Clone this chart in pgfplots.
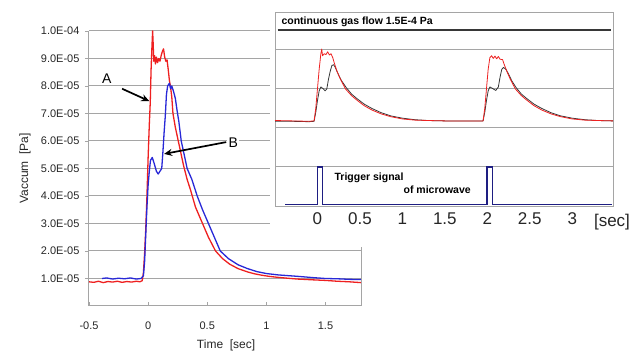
\documentclass[border=0pt]{standalone}
\usepackage{pgfplots}
\pgfplotsset{compat=1.18}
\usepackage{fontspec}
\setmainfont{Liberation Sans}
\usetikzlibrary{arrows.meta}
\definecolor{gridgray}{RGB}{165,165,165}
\definecolor{redline}{RGB}{238,32,32}
\definecolor{blueline}{RGB}{40,40,215}
\definecolor{navy}{RGB}{30,30,130}
\definecolor{darkline}{RGB}{55,55,55}
\begin{document}
\begin{tikzpicture}[x=1pt,y=1pt]
\path[use as bounding box] (0,0) rectangle (643,353);
\begin{axis}[
  at={(89pt,47pt)}, anchor=south west, scale only axis,
  width=272pt, height=275pt,
  xmin=-0.5, xmax=1.8, ymin=0, ymax=1.0e-4,
  axis x line*=bottom, axis y line*=left,
  axis line style={gridgray, line width=1pt, -},
  xtick={-0.5,0,0.5,1,1.5}, xticklabels={-0.5,0,0.5,1,1.5},
  ytick={1e-5,2e-5,3e-5,4e-5,5e-5,6e-5,7e-5,8e-5,9e-5,1e-4},
  yticklabels={1.0E-05,2.0E-05,3.0E-05,4.0E-05,5.0E-05,6.0E-05,7.0E-05,8.0E-05,9.0E-05,1.0E-04},
  scaled y ticks=false,
  ymajorgrids, grid style={gridgray, line width=1pt},
  xtick align=inside, ytick align=outside,
  major tick length=4pt, tick style={gridgray, line width=0.8pt},
  ticklabel style={font=\fontsize{11}{13}\selectfont, text=black!85},
  xticklabel style={yshift=-12pt},
  yticklabel style={xshift=-2pt},
  xlabel={Time\ \ [sec]}, ylabel={Vaccum\ \ [Pa]},
  label style={font=\fontsize{12}{14}\selectfont, text=black!85},
  xlabel style={at={(axis description cs:0.504,-0.142)}, anchor=center},
  ylabel style={at={(axis description cs:-0.235,0.5)}, anchor=center},
  clip=false,
]
\addplot[redline, line width=1.3pt, line join=round] coordinates {
(-0.50,0.88e-5) (-0.46,0.86e-5) (-0.42,0.90e-5) (-0.38,0.85e-5) (-0.34,0.89e-5)
(-0.30,0.87e-5) (-0.26,0.90e-5) (-0.22,0.86e-5) (-0.18,0.89e-5) (-0.14,0.87e-5)
(-0.10,0.90e-5) (-0.07,0.88e-5) (-0.05,0.92e-5) (-0.04,1.2e-5) (-0.03,1.9e-5)
(-0.02,2.8e-5) (-0.01,4.0e-5) (0.00,5.4e-5) (0.01,6.6e-5) (0.018,7.4e-5)
(0.025,8.6e-5) (0.032,9.4e-5) (0.038,10.0e-5) (0.042,9.6e-5) (0.048,8.9e-5)
(0.055,9.1e-5) (0.062,8.8e-5) (0.07,9.05e-5) (0.08,8.85e-5) (0.09,9.0e-5)
(0.10,8.9e-5) (0.11,9.1e-5) (0.12,9.25e-5) (0.13,9.35e-5) (0.14,9.05e-5)
(0.15,8.9e-5) (0.16,8.95e-5) (0.17,8.6e-5) (0.18,8.2e-5) (0.19,7.95e-5)
(0.20,7.6e-5) (0.21,7.0e-5) (0.23,6.5e-5) (0.25,6.1e-5) (0.27,5.7e-5)
(0.30,5.1e-5) (0.33,4.6e-5) (0.36,4.2e-5) (0.40,3.6e-5) (0.43,3.3e-5)
(0.46,3.0e-5) (0.51,2.5e-5) (0.57,2.0e-5) (0.63,1.72e-5) (0.69,1.52e-5)
(0.76,1.36e-5) (0.84,1.24e-5) (0.90,1.17e-5) (0.96,1.12e-5) (1.02,1.08e-5)
(1.10,1.04e-5) (1.18,1.01e-5) (1.26,0.98e-5) (1.31,0.97e-5) (1.40,0.95e-5)
(1.50,0.93e-5) (1.60,0.90e-5) (1.70,0.88e-5) (1.80,0.85e-5)
};
\addplot[blueline, line width=1.3pt, line join=round] coordinates {
(-0.39,1.0e-5) (-0.35,1.02e-5) (-0.30,0.98e-5) (-0.25,1.01e-5) (-0.20,0.99e-5)
(-0.15,1.02e-5) (-0.10,0.98e-5) (-0.06,1.0e-5) (-0.04,1.1e-5) (-0.03,1.6e-5)
(-0.02,2.6e-5) (-0.01,3.6e-5) (0.00,4.4e-5) (0.01,4.9e-5) (0.02,5.3e-5)
(0.035,5.4e-5) (0.05,5.2e-5) (0.07,4.9e-5) (0.085,4.8e-5) (0.10,4.9e-5)
(0.115,5.0e-5) (0.125,5.6e-5) (0.135,6.3e-5) (0.145,6.9e-5) (0.155,7.7e-5)
(0.165,8.0e-5) (0.18,8.1e-5) (0.19,7.9e-5) (0.20,8.0e-5) (0.215,7.8e-5)
(0.23,7.55e-5) (0.245,7.1e-5) (0.26,6.7e-5) (0.28,6.0e-5) (0.31,5.4e-5)
(0.33,5.0e-5) (0.37,4.6e-5) (0.415,4.0e-5) (0.46,3.5e-5) (0.51,3.0e-5)
(0.56,2.5e-5) (0.61,2.0e-5) (0.68,1.72e-5) (0.76,1.5e-5) (0.84,1.36e-5)
(0.92,1.25e-5) (1.00,1.18e-5) (1.10,1.13e-5) (1.26,1.08e-5) (1.40,1.03e-5)
(1.50,1.0e-5) (1.60,0.99e-5) (1.70,0.97e-5) (1.80,0.96e-5)
};
\draw[gridgray, line width=1pt] (axis cs:1.8,0) -- (axis cs:1.8,2.15e-5);
\node[fill=white, inner sep=1.5pt, font=\fontsize{14}{16}\selectfont] at (axis cs:-0.35,8.25e-5) {A};
\draw[-{Stealth[length=8pt,width=7pt]}, line width=1.7pt] (axis cs:-0.22,7.9e-5) -- (axis cs:0.01,7.45e-5);
\node[fill=white, inner sep=1.5pt, font=\fontsize{14}{16}\selectfont] at (axis cs:0.72,5.93e-5) {B};
\draw[-{Stealth[length=8pt,width=7pt]}, line width=1.7pt] (axis cs:0.66,5.96e-5) -- (axis cs:0.135,5.53e-5);
\end{axis}
\fill[white] (270,108) rectangle (643,353);
\begin{axis}[
  at={(275pt,147pt)}, anchor=south west, scale only axis,
  width=338pt, height=194pt,
  xmin=-0.5, xmax=3.48, ymin=0, ymax=4.97,
  axis line style={gridgray, line width=0.8pt},
  ytick={1,2,3,4}, yticklabels={\empty,\empty,\empty,\empty},
  ymajorgrids, grid style={gridgray, line width=1pt},
  xtick={0,0.5,1,1.5,2,2.5,3}, xticklabels={0,0.5,1,1.5,2,2.5,3},
  major tick length=0pt,
  xticklabel style={font=\fontsize{17}{19}\selectfont, text=black!85, yshift=-3pt},
  axis background/.style={fill=white},
  clip=false,
]
\addplot[darkline, line width=2pt] coordinates {(-0.47,4.5) (3.46,4.5)};
\addplot[darkline, line width=0.8pt, line join=round] coordinates {
(-0.50,2.17) (-0.30,2.17) (-0.10,2.16) (-0.04,2.17) (-0.02,2.4) (0.0,2.7) (0.02,2.95)
(0.04,3.05) (0.07,3.0) (0.09,2.95) (0.11,3.0) (0.13,3.25) (0.15,3.45) (0.17,3.6)
(0.19,3.62) (0.21,3.55) (0.24,3.4) (0.28,3.22) (0.34,3.03) (0.40,2.87) (0.46,2.76)
(0.55,2.61) (0.64,2.5) (0.75,2.39) (0.86,2.31) (1.0,2.25) (1.15,2.21) (1.3,2.19)
(1.5,2.18) (1.95,2.18) (1.97,2.4) (1.99,2.7) (2.01,2.95) (2.03,3.05) (2.07,3.0)
(2.10,2.96) (2.13,3.05) (2.15,3.3) (2.17,3.5) (2.19,3.55) (2.22,3.5) (2.25,3.38)
(2.29,3.2) (2.34,3.03) (2.40,2.87) (2.46,2.76) (2.55,2.61) (2.64,2.5) (2.75,2.39)
(2.86,2.31) (3.0,2.25) (3.15,2.21) (3.3,2.19) (3.48,2.18)
};
\addplot[redline, line width=0.8pt, line join=round] coordinates {
(-0.50,2.19) (-0.30,2.18) (-0.10,2.17) (-0.04,2.18) (-0.02,2.5) (0.0,3.0) (0.02,3.5)
(0.04,3.9) (0.05,4.02) (0.06,3.85) (0.08,3.9) (0.10,3.88) (0.12,3.95) (0.14,3.87)
(0.16,3.9) (0.18,3.8) (0.20,3.65) (0.23,3.45) (0.27,3.25) (0.33,3.0) (0.40,2.83)
(0.46,2.72) (0.55,2.57) (0.64,2.46) (0.75,2.36) (0.86,2.29) (1.0,2.23) (1.15,2.2)
(1.3,2.19) (1.5,2.18) (1.7,2.18) (1.95,2.18) (1.97,2.5) (1.99,3.0) (2.01,3.5)
(2.03,3.8) (2.05,3.85) (2.07,3.78) (2.09,3.84) (2.11,3.77) (2.13,3.83) (2.15,3.76)
(2.18,3.75) (2.20,3.62) (2.23,3.45) (2.27,3.25) (2.33,3.0) (2.40,2.83) (2.46,2.72)
(2.55,2.57) (2.64,2.46) (2.75,2.36) (2.86,2.29) (3.0,2.23) (3.15,2.2) (3.3,2.19) (3.48,2.18)
};
\addplot[navy, line width=1.8pt, line join=miter] coordinates {
(-0.38,0.04) (-0.1,0.04) (0.0,0.04) (0.0,1.0) (0.06,1.0) (0.06,0.04) (1.0,0.04)
(2.0,0.04) (2.0,1.0) (2.06,1.0) (2.06,0.04) (3.0,0.04) (3.47,0.04)
};
\node[anchor=west, font=\bfseries\fontsize{10.5}{12}\selectfont] at (axis cs:-0.465,4.73) {continuous gas flow 1.5E-4 Pa};
\node[font=\bfseries\fontsize{10.5}{12}\selectfont] at (axis cs:0.607,0.72) {Trigger signal};
\node[font=\bfseries\fontsize{10.5}{12}\selectfont] at (axis cs:1.41,0.41) {of microwave};
\node[font=\fontsize{17}{19}\selectfont, text=black!85] at (rel axis cs:0.997,-0.085) {[sec]};
\end{axis}
\end{tikzpicture}
\end{document}
